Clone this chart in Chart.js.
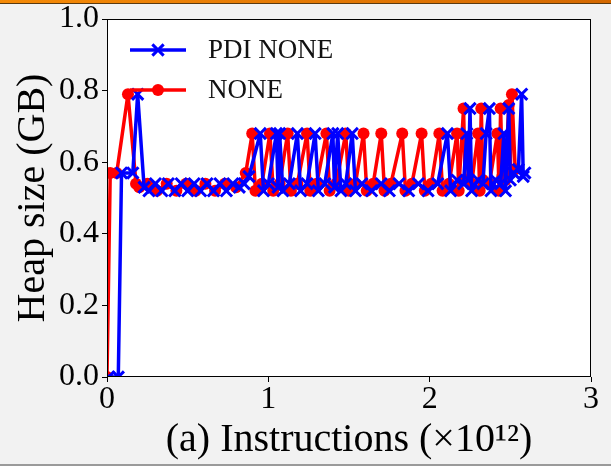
<!DOCTYPE html>
<html lang="en">
<head>
    <meta charset="UTF-8">
    <title>Heap size</title>
    <script src="https://cdn.jsdelivr.net/npm/chart.js"></script>
    <style>
        body {
            margin: 0;
            background: #f2f2f2;
            overflow: hidden;
        }
        .topbar {
            position: absolute;
            left: 0; top: 0;
            width: 611px; height: 3px;
            background: linear-gradient(to right, #f58a07, #d46800);
            border-bottom: 1px solid #5a3a10;
        }
        .bottomline {
            position: absolute;
            left: 0; top: 464px;
            width: 611px; height: 2px;
            background: #9a9a9a;
        }
        canvas {
            position: absolute;
            left: 0; top: 0;
        }
    </style>
</head>
<body>
    <canvas id="heapChart" width="611" height="466"></canvas>
    <div class="topbar"></div>
    <div class="bottomline"></div>

    <script>
        // series labels (legend order)
        const seriesLabels = ['PDI NONE', 'NONE'];

        // PDI NONE (blue), x in 10^12 instructions, y in GB
        const blueX = [0.01, 0.07, 0.09, 0.16, 0.19, 0.23, 0.26, 0.30, 0.34, 0.38, 0.42, 0.46, 0.50, 0.54, 0.58, 0.62, 0.66,
                       0.70, 0.74, 0.78, 0.82, 0.85, 0.88,
                       0.95, 0.97, 1.00, 1.05, 1.06, 1.07, 1.09, 1.13, 1.18, 1.20, 1.24, 1.29, 1.31, 1.35, 1.40, 1.41, 1.43, 1.45,
                       1.48, 1.52, 1.54, 1.58, 1.64, 1.70, 1.75, 1.81, 1.87, 1.93, 1.99, 2.05, 2.11, 2.13, 2.17, 2.21, 2.23, 2.24,
                       2.25, 2.26, 2.30, 2.33, 2.35, 2.37, 2.38, 2.41, 2.44, 2.46, 2.47, 2.49, 2.50, 2.52, 2.55, 2.57, 2.58, 2.59];
        const blueY = [0.00, 0.00, 0.57, 0.57, 0.79, 0.53, 0.52, 0.54, 0.52, 0.54, 0.52, 0.54, 0.52, 0.54, 0.52, 0.54, 0.52,
                       0.54, 0.52, 0.54, 0.53, 0.54, 0.56,
                       0.68, 0.52, 0.54, 0.68, 0.53, 0.68, 0.52, 0.54, 0.68, 0.52, 0.54, 0.68, 0.52, 0.54, 0.68, 0.53, 0.68, 0.52,
                       0.54, 0.68, 0.52, 0.54, 0.52, 0.54, 0.52, 0.54, 0.52, 0.54, 0.52, 0.54, 0.68, 0.52, 0.55, 0.54, 0.68, 0.55,
                       0.75, 0.52, 0.55, 0.54, 0.68, 0.75, 0.52, 0.55, 0.54, 0.68, 0.52, 0.75, 0.55, 0.57, 0.58, 0.79, 0.56, 0.57];

        // NONE (red)
        const redX = [0.00, 0.02, 0.06, 0.13, 0.18, 0.20, 0.25, 0.31, 0.37, 0.43, 0.49, 0.55, 0.61, 0.67, 0.73, 0.80, 0.86,
                      0.90, 0.92, 0.96, 1.01, 1.03, 1.07, 1.12, 1.14, 1.18, 1.24, 1.26, 1.30, 1.36, 1.38, 1.42, 1.48, 1.50,
                      1.54, 1.59, 1.61, 1.65, 1.70, 1.72, 1.76, 1.83, 1.85, 1.89, 1.95, 1.97, 2.01, 2.06, 2.08, 2.12, 2.17,
                      2.18, 2.21, 2.22, 2.26, 2.30, 2.31, 2.32, 2.33, 2.37, 2.42, 2.43, 2.44, 2.45, 2.47, 2.49, 2.50, 2.51, 2.53];
        const redY = [0.00, 0.57, 0.57, 0.79, 0.54, 0.53, 0.54, 0.52, 0.54, 0.52, 0.54, 0.52, 0.54, 0.52, 0.54, 0.53, 0.57,
                      0.68, 0.52, 0.54, 0.68, 0.52, 0.54, 0.68, 0.52, 0.54, 0.68, 0.52, 0.54, 0.68, 0.52, 0.54, 0.68, 0.52,
                      0.54, 0.68, 0.52, 0.54, 0.68, 0.52, 0.54, 0.68, 0.52, 0.54, 0.68, 0.52, 0.54, 0.68, 0.52, 0.54, 0.68,
                      0.52, 0.75, 0.55, 0.54, 0.68, 0.52, 0.75, 0.55, 0.54, 0.68, 0.52, 0.75, 0.56, 0.55, 0.76, 0.57, 0.79, 0.58];

        const xTicks = [0, 1, 2, 3];
        const yTicks = [0.0, 0.2, 0.4, 0.6, 0.8, 1.0];

        const serif = "'Liberation Serif', 'DejaVu Serif', serif";

        function toPoints(xs, ys) {
            return xs.map((x, i) => ({ x: x, y: ys[i] }));
        }

        // white plot area + top/right frame
        const frame = {
            id: 'frame',
            beforeDraw(chart) {
                const { ctx, chartArea: a } = chart;
                ctx.save();
                ctx.fillStyle = '#ffffff';
                ctx.fillRect(a.left, a.top, a.right - a.left, a.bottom - a.top);
                ctx.restore();
            },
            afterDraw(chart) {
                const { ctx, chartArea: a } = chart;
                ctx.save();
                ctx.strokeStyle = '#000';
                ctx.lineWidth = 1;
                ctx.strokeRect(a.left + 0.5, a.top + 0.5, a.right - a.left - 1, a.bottom - a.top - 1);
                ctx.restore();
            }
        };

        // legend drawn inside the axes, upper left, no frame
        const insideLegend = {
            id: 'insideLegend',
            afterDraw(chart) {
                const ctx = chart.ctx;
                const a = chart.chartArea;
                chart.data.datasets.forEach((ds, i) => {
                    const y = a.top + 31 + i * 40;
                    const x0 = a.left + 23, x1 = a.left + 79;
                    ctx.save();
                    ctx.strokeStyle = ds.borderColor;
                    ctx.fillStyle = ds.pointBackgroundColor;
                    ctx.lineWidth = ds.borderWidth;
                    ctx.beginPath();
                    ctx.moveTo(x0, y);
                    ctx.lineTo(x1, y);
                    ctx.stroke();
                    ctx.strokeStyle = ds.pointBorderColor;
                    ctx.lineWidth = ds.pointBorderWidth;
                    Chart.helpers.drawPoint(ctx, {
                        pointStyle: ds.pointStyle,
                        radius: ds.pointRadius,
                        borderWidth: ds.pointBorderWidth,
                        rotation: 0
                    }, (x0 + x1) / 2, y);
                    ctx.fillStyle = '#111';
                    ctx.font = '27px ' + serif;
                    ctx.textAlign = 'left';
                    ctx.textBaseline = 'middle';
                    ctx.fillText(ds.label, a.left + 101, y + 1);
                    ctx.restore();
                });
            }
        };

        const ctx = document.getElementById('heapChart').getContext('2d');
        new Chart(ctx, {
            type: 'line',
            data: {
                datasets: [{
                    label: seriesLabels[0],
                    data: toPoints(blueX, blueY),
                    borderColor: '#0000ff',
                    borderWidth: 3.5,
                    borderJoinStyle: 'round',
                    pointStyle: 'crossRot',
                    pointRadius: 8,
                    pointBorderWidth: 3,
                    pointBorderColor: '#0000ff',
                    pointBackgroundColor: '#0000ff',
                    fill: false,
                    tension: 0
                }, {
                    label: seriesLabels[1],
                    data: toPoints(redX, redY),
                    borderColor: '#ff0000',
                    borderWidth: 3.5,
                    borderJoinStyle: 'round',
                    pointStyle: 'circle',
                    pointRadius: 6,
                    pointBorderWidth: 0,
                    pointBorderColor: '#ff0000',
                    pointBackgroundColor: '#ff0000',
                    fill: false,
                    tension: 0
                }]
            },
            options: {
                responsive: false,
                animation: false,
                devicePixelRatio: 1,
                layout: { padding: { top: 17, right: 20, left: 0, bottom: 0 } },
                plugins: {
                    legend: { display: false },
                    tooltip: { enabled: false }
                },
                scales: {
                    x: {
                        type: 'linear',
                        min: 0,
                        max: 3,
                        afterBuildTicks: s => { s.ticks = xTicks.map(v => ({ value: v })); },
                        afterFit: s => { s.height = 89; },
                        grid: { drawOnChartArea: false, drawTicks: true, tickLength: 5, color: '#000' },
                        border: { display: false },
                        ticks: {
                            padding: 2,
                            color: '#000',
                            font: { family: serif, size: 32, lineHeight: 1 },
                            callback: v => String(v)
                        },
                        title: {
                            display: true,
                            text: '(a) Instructions (×10¹²)',
                            color: '#000',
                            font: { family: serif, size: 40, lineHeight: 1 },
                            padding: { top: 0, bottom: 6 }
                        }
                    },
                    y: {
                        min: 0,
                        max: 1,
                        afterBuildTicks: s => { s.ticks = yTicks.map(v => ({ value: v })); },
                        afterFit: s => { s.width = 107; },
                        grid: { drawOnChartArea: false, drawTicks: true, tickLength: 5, color: '#000' },
                        border: { display: false },
                        ticks: {
                            padding: 3,
                            color: '#000',
                            font: { family: serif, size: 32, lineHeight: 1 },
                            callback: v => v.toFixed(1)
                        },
                        title: {
                            display: true,
                            text: 'Heap size (GB)',
                            color: '#000',
                            font: { family: serif, size: 40, lineHeight: 1 },
                            padding: { top: 13, bottom: 0 }
                        }
                    }
                }
            },
            plugins: [frame, insideLegend]
        });
    </script>
</body>
</html>
